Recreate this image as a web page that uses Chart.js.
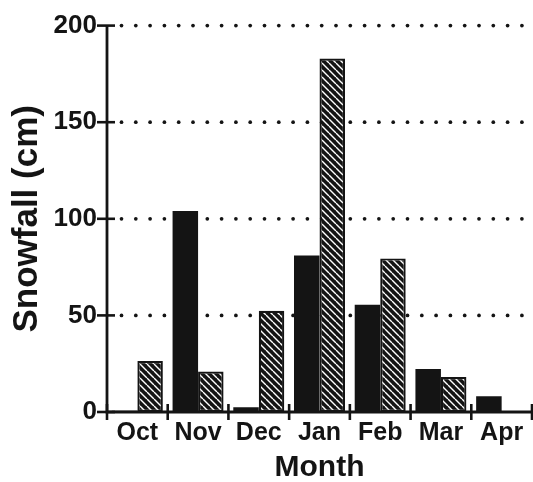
<!DOCTYPE html>
<html>
<head>
<meta charset="utf-8">
<script src="https://cdn.jsdelivr.net/npm/chart.js@4.4.0/dist/chart.umd.min.js"></script>
<style>
html,body{margin:0;padding:0;background:#fff;}
#wrap{width:533px;height:482px;}
</style>
</head>
<body>
<div id="wrap"><canvas id="c" width="533" height="482"></canvas></div>
<script>
const months = ['Oct', 'Nov', 'Dec', 'Jan', 'Feb', 'Mar', 'Apr'];
const solidSeries = [0.6, 104, 2.4, 81, 55.5, 22.3, 8.2];
const hatchedSeries = [26.4, 21, 52.4, 183, 79.5, 18.1, 0];
const yTickValues = [0, 50, 100, 150, 200];
const xTitle = 'Month';
const yTitle = 'Snowfall (cm)';

const INK = '#141414';
const FONT = "'Liberation Sans', Arial, sans-serif";

function makeHatch() {
  const c = document.createElement('canvas');
  c.width = 7; c.height = 7;
  const g = c.getContext('2d');
  g.fillStyle = INK;
  g.fillRect(0, 0, 7, 7);
  g.strokeStyle = '#ffffff';
  g.lineWidth = 1.4;
  g.beginPath();
  for (const x0 of [-7, 0, 7]) {
    g.moveTo(x0, 0);
    g.lineTo(x0 + 7, 7);
  }
  g.stroke();
  return g.createPattern(c, 'repeat');
}

const decorPlugin = {
  id: 'decor',
  beforeDatasetsDraw(chart) {
    const ctx = chart.ctx;
    const x = chart.scales.x, y = chart.scales.y;
    ctx.save();
    ctx.fillStyle = INK;
    yTickValues.forEach(v => {
      if (v === 0) return;
      const py = y.getPixelForValue(v);
      for (let px = x.left + 14.5; px < x.right; px += 14.3) {
        ctx.beginPath();
        ctx.arc(px, py, 1.85, 0, Math.PI * 2);
        ctx.fill();
      }
    });
    ctx.restore();
  },
  afterDatasetsDraw(chart) {
    const ctx = chart.ctx;
    const x = chart.scales.x, y = chart.scales.y;
    ctx.save();
    ctx.strokeStyle = INK;
    ctx.lineWidth = 2.6;
    yTickValues.forEach(v => {
      const py = y.getPixelForValue(v);
      ctx.beginPath();
      ctx.moveTo(x.left - 10, py);
      ctx.lineTo(x.left + 8, py);
      ctx.stroke();
    });
    const n = months.length;
    const w = (x.right - x.left) / n;
    for (let i = 0; i <= n; i++) {
      const px = x.left + i * w;
      ctx.beginPath();
      ctx.moveTo(px, y.bottom - 8);
      ctx.lineTo(px, y.bottom + 8);
      ctx.stroke();
    }
    ctx.lineWidth = 2.8;
    ctx.beginPath();
    ctx.moveTo(x.left, y.top);
    ctx.lineTo(x.left, y.bottom);
    ctx.lineTo(x.right, y.bottom);
    ctx.stroke();
    ctx.restore();
  }
};

const ctx = document.getElementById('c').getContext('2d');
new Chart(ctx, {
  type: 'bar',
  data: {
    labels: months,
    datasets: [
      {
        data: solidSeries,
        backgroundColor: INK,
        borderWidth: 0,
        categoryPercentage: 0.84,
        barPercentage: 1.0
      },
      {
        data: hatchedSeries,
        backgroundColor: makeHatch(),
        borderColor: INK,
        borderWidth: 2.2,
        borderSkipped: false,
        categoryPercentage: 0.84,
        barPercentage: 1.0
      }
    ]
  },
  options: {
    responsive: false,
    animation: false,
    devicePixelRatio: 1,
    layout: { padding: { top: 23, right: 1, left: 0, bottom: 0 } },
    plugins: { legend: { display: false }, tooltip: { enabled: false } },
    scales: {
      x: {
        grid: { display: false, drawTicks: false },
        border: { display: false },
        ticks: {
          color: INK,
          font: { family: FONT, size: 25, weight: 'bold' },
          padding: 6,
          maxRotation: 0,
          autoSkip: false
        },
        title: {
          display: true,
          text: xTitle,
          color: INK,
          font: { family: FONT, size: 30, weight: 'bold', lineHeight: 0.95 },
          padding: { top: 0, bottom: 0 }
        },
        afterFit(scale) { scale.height = 70; }
      },
      y: {
        min: 0,
        max: 200,
        grid: { display: false, drawTicks: false },
        border: { display: false },
        ticks: {
          stepSize: 50,
          color: INK,
          font: { family: FONT, size: 26, weight: 'bold' },
          padding: 10,
          callback: (v) => yTickValues.includes(v) ? String(v) : ''
        },
        title: {
          display: true,
          text: yTitle,
          color: INK,
          font: { family: FONT, size: 35, weight: 'bold' },
          padding: { top: 6, bottom: 0 }
        },
        afterFit(scale) { scale.width = 107; }
      }
    }
  },
  plugins: [decorPlugin]
});
</script>
</body>
</html>
